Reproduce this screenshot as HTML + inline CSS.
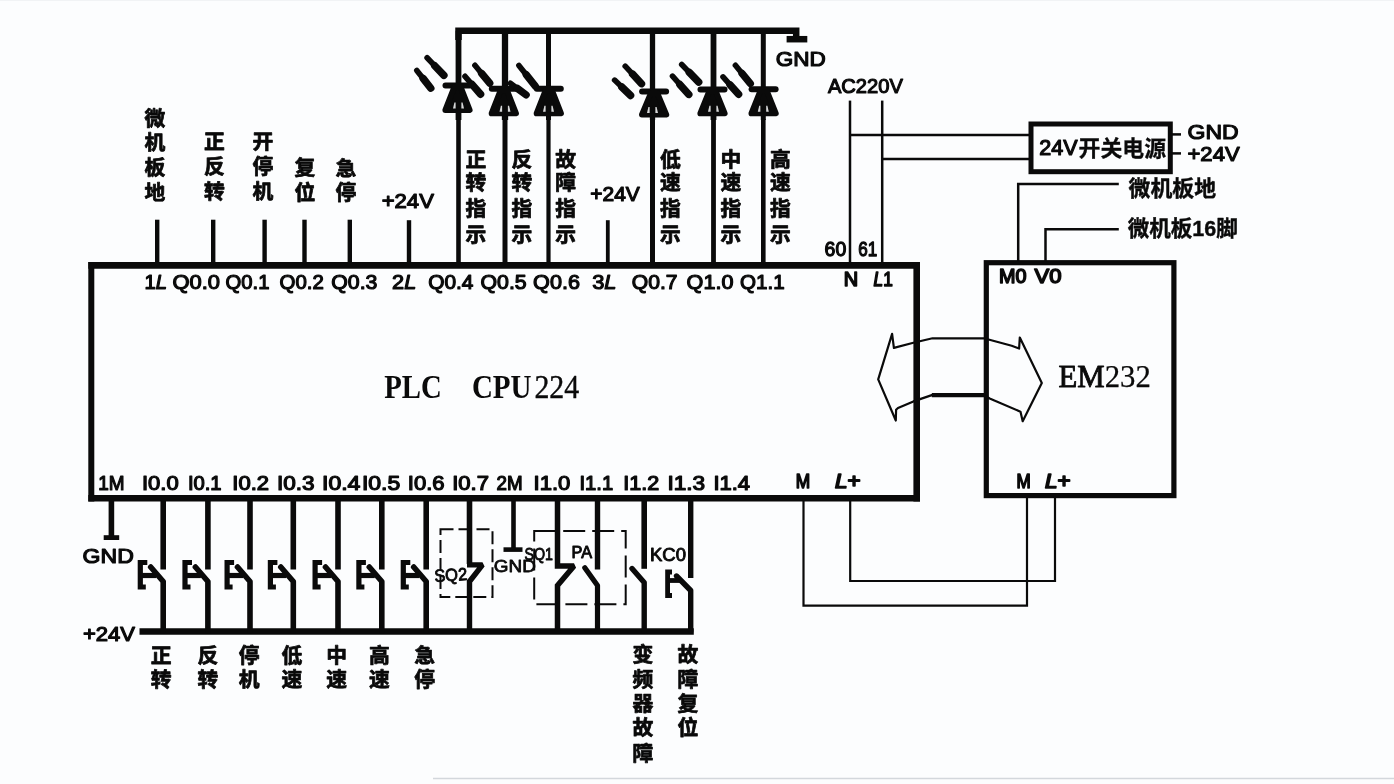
<!DOCTYPE html>
<html lang="zh-CN">
<head>
<meta charset="utf-8">
<title>PLC CPU224 接线图</title>
<style>
html,body{margin:0;padding:0;background:#fcfdfe;}
body{width:1394px;height:784px;overflow:hidden;position:relative;}
svg{display:block;position:absolute;left:0;top:0;will-change:transform;filter:blur(0.4px);}
svg line, svg path, svg rect, svg polygon{stroke:#0a0a0a;}
svg text{fill:#0a0a0a;stroke:#0a0a0a;stroke-linejoin:round;}
</style>
</head>
<body>
<svg width="1394" height="784" viewBox="0 0 1394 784">
<rect x="0" y="0" width="1394" height="784" fill="#fcfdfe" stroke="none" style="stroke:none"/>
<line x1="433" y1="778.5" x2="1394" y2="778.5" style="stroke:#d3d7dc" stroke-width="1.5"/>
<line x1="0" y1="0.5" x2="1394" y2="0.5" style="stroke:#f1f3f5" stroke-width="1"/>

<line x1="88.3" y1="265.4" x2="920" y2="265.4" stroke-width="6.8" stroke-linecap="butt" />
<line x1="88.3" y1="498.2" x2="920" y2="498.2" stroke-width="6.6" stroke-linecap="butt" />
<line x1="91.3" y1="262" x2="91.3" y2="501.5" stroke-width="6" stroke-linecap="butt" />
<line x1="916.7" y1="262" x2="916.7" y2="501.5" stroke-width="6.6" stroke-linecap="butt" />
<rect x="986.3" y="262.7" width="187.6" height="232.9" fill="none" stroke-width="5.2"/>
<rect x="1031" y="124" width="139.3" height="47.7" fill="none" stroke-width="5"/>
<line x1="157.2" y1="219.7" x2="157.2" y2="265" stroke-width="4.4" stroke-linecap="butt" />
<line x1="213.2" y1="219.7" x2="213.2" y2="265" stroke-width="4.4" stroke-linecap="butt" />
<line x1="264.6" y1="219.7" x2="264.6" y2="265" stroke-width="4.4" stroke-linecap="butt" />
<line x1="304.5" y1="219.7" x2="304.5" y2="265" stroke-width="4.4" stroke-linecap="butt" />
<line x1="349.8" y1="219.7" x2="349.8" y2="265" stroke-width="4.4" stroke-linecap="butt" />
<line x1="409" y1="220.2" x2="409" y2="265" stroke-width="4.4" stroke-linecap="butt" />
<line x1="607.8" y1="220.2" x2="607.8" y2="265" stroke-width="3.8" stroke-linecap="butt" />
<line x1="458.5" y1="30.8" x2="458.5" y2="120" stroke-width="5.8" stroke-linecap="butt" />
<line x1="458.5" y1="119" x2="458.5" y2="265" stroke-width="4.6" stroke-linecap="butt" />
<line x1="505" y1="30.8" x2="505" y2="120" stroke-width="6.3" stroke-linecap="butt" />
<line x1="505" y1="119" x2="505" y2="265" stroke-width="5" stroke-linecap="butt" />
<line x1="548.5" y1="30.8" x2="548.5" y2="120" stroke-width="5" stroke-linecap="butt" />
<line x1="548.5" y1="119" x2="548.5" y2="265" stroke-width="4.2" stroke-linecap="butt" />
<line x1="652.5" y1="30.8" x2="652.5" y2="120" stroke-width="5.3" stroke-linecap="butt" />
<line x1="652.5" y1="119" x2="652.5" y2="265" stroke-width="5" stroke-linecap="butt" />
<line x1="713.5" y1="30.8" x2="713.5" y2="120" stroke-width="5.8" stroke-linecap="butt" />
<line x1="713.5" y1="119" x2="713.5" y2="265" stroke-width="4.8" stroke-linecap="butt" />
<line x1="763.3" y1="30.8" x2="763.3" y2="120" stroke-width="5" stroke-linecap="butt" />
<line x1="763.3" y1="119" x2="763.3" y2="265" stroke-width="4.6" stroke-linecap="butt" />
<path d="M458.5 40 L458.5 30.8 L796.2 30.8 L796.2 39" stroke-width="6.5" fill="none" stroke-linejoin="miter"/>
<line x1="786.6" y1="39.2" x2="807.3" y2="39.2" stroke-width="6.5" stroke-linecap="butt" />
<line x1="445.5" y1="85.5" x2="469.5" y2="85.5" stroke-width="6" stroke-linecap="round" />
<polygon points="454.3,87.0 460.7,87.0 469.7,110.1 445.3,110.1" fill="#0a0a0a" stroke-width="5.8" stroke-linejoin="round"/>
<polygon points="455.6,108.4 453.0,108.4 454.4,102.5 455.6,102.5" style="stroke:none" fill="#fcfdfe" fill-opacity="0.85"/>
<polygon points="461.4,108.4 464.0,108.4 462.6,102.5 461.4,102.5" style="stroke:none" fill="#fcfdfe" fill-opacity="0.85"/>
<line x1="491.8" y1="88.8" x2="515.8" y2="88.8" stroke-width="6" stroke-linecap="round" />
<polygon points="500.6,90.3 507.0,90.3 516.0,113.39999999999999 491.6,113.39999999999999" fill="#0a0a0a" stroke-width="5.8" stroke-linejoin="round"/>
<polygon points="502.1,111.7 499.5,111.7 500.9,105.8 502.1,105.8" style="stroke:none" fill="#fcfdfe" fill-opacity="0.85"/>
<polygon points="507.9,111.7 510.5,111.7 509.1,105.8 507.9,105.8" style="stroke:none" fill="#fcfdfe" fill-opacity="0.85"/>
<line x1="536.8" y1="88.8" x2="560.8" y2="88.8" stroke-width="6" stroke-linecap="round" />
<polygon points="545.6,90.3 552.0,90.3 561.0,113.39999999999999 536.6,113.39999999999999" fill="#0a0a0a" stroke-width="5.8" stroke-linejoin="round"/>
<polygon points="545.6,111.7 543.0,111.7 544.4,105.8 545.6,105.8" style="stroke:none" fill="#fcfdfe" fill-opacity="0.85"/>
<polygon points="551.4,111.7 554.0,111.7 552.6,105.8 551.4,105.8" style="stroke:none" fill="#fcfdfe" fill-opacity="0.85"/>
<line x1="642.1" y1="91.5" x2="666.1" y2="91.5" stroke-width="6" stroke-linecap="round" />
<polygon points="650.9,93.0 657.3,93.0 666.3,114.6 641.9,114.6" fill="#0a0a0a" stroke-width="5.8" stroke-linejoin="round"/>
<polygon points="649.6,112.9 647.0,112.9 648.4,107.0 649.6,107.0" style="stroke:none" fill="#fcfdfe" fill-opacity="0.85"/>
<polygon points="655.4,112.9 658.0,112.9 656.6,107.0 655.4,107.0" style="stroke:none" fill="#fcfdfe" fill-opacity="0.85"/>
<line x1="700.5" y1="89.5" x2="724.5" y2="89.5" stroke-width="6" stroke-linecap="round" />
<polygon points="709.3,91.0 715.7,91.0 724.7,113.39999999999999 700.3,113.39999999999999" fill="#0a0a0a" stroke-width="5.8" stroke-linejoin="round"/>
<polygon points="710.6,111.7 708.0,111.7 709.4,105.8 710.6,105.8" style="stroke:none" fill="#fcfdfe" fill-opacity="0.85"/>
<polygon points="716.4,111.7 719.0,111.7 717.6,105.8 716.4,105.8" style="stroke:none" fill="#fcfdfe" fill-opacity="0.85"/>
<line x1="751.5999999999999" y1="89.2" x2="775.5999999999999" y2="89.2" stroke-width="6" stroke-linecap="round" />
<polygon points="760.4,90.7 766.8,90.7 775.8,113.39999999999999 751.4,113.39999999999999" fill="#0a0a0a" stroke-width="5.8" stroke-linejoin="round"/>
<polygon points="760.4,111.7 757.8,111.7 759.2,105.8 760.4,105.8" style="stroke:none" fill="#fcfdfe" fill-opacity="0.85"/>
<polygon points="766.2,111.7 768.8,111.7 767.4,105.8 766.2,105.8" style="stroke:none" fill="#fcfdfe" fill-opacity="0.85"/>
<line x1="416.8" y1="70.4" x2="430.8" y2="88.2" stroke-width="5.6" stroke-linecap="round" />
<line x1="423.1" y1="78.4" x2="430.8" y2="88.2" stroke-width="7.4" stroke-linecap="round" />
<line x1="427.1" y1="57.8" x2="443.9" y2="75.4" stroke-width="5.6" stroke-linecap="round" />
<line x1="434.7" y1="65.7" x2="443.9" y2="75.4" stroke-width="7.4" stroke-linecap="round" />
<line x1="465.0" y1="76.3" x2="480.6" y2="94.3" stroke-width="5.6" stroke-linecap="round" />
<line x1="472.0" y1="84.4" x2="480.6" y2="94.3" stroke-width="7.4" stroke-linecap="round" />
<line x1="474.9" y1="65.3" x2="489.7" y2="83.2" stroke-width="5.6" stroke-linecap="round" />
<line x1="481.6" y1="73.4" x2="489.7" y2="83.2" stroke-width="7.4" stroke-linecap="round" />
<line x1="510.4" y1="83.3" x2="526.1" y2="94.9" stroke-width="5.6" stroke-linecap="round" />
<line x1="517.5" y1="88.5" x2="526.1" y2="94.9" stroke-width="7.4" stroke-linecap="round" />
<line x1="518.9" y1="65.4" x2="535.4" y2="86.2" stroke-width="5.6" stroke-linecap="round" />
<line x1="526.3" y1="74.7" x2="535.4" y2="86.2" stroke-width="7.4" stroke-linecap="round" />
<line x1="614.6" y1="80.1" x2="630.6" y2="95.5" stroke-width="5.6" stroke-linecap="round" />
<line x1="621.8" y1="87.0" x2="630.6" y2="95.5" stroke-width="7.4" stroke-linecap="round" />
<line x1="625.2" y1="66.2" x2="641.5" y2="83.7" stroke-width="5.6" stroke-linecap="round" />
<line x1="632.6" y1="74.1" x2="641.5" y2="83.7" stroke-width="7.4" stroke-linecap="round" />
<line x1="672.5" y1="76.2" x2="688.8" y2="94.4" stroke-width="5.6" stroke-linecap="round" />
<line x1="679.8" y1="84.4" x2="688.8" y2="94.4" stroke-width="7.4" stroke-linecap="round" />
<line x1="681.7" y1="64.5" x2="698.7" y2="82.1" stroke-width="5.6" stroke-linecap="round" />
<line x1="689.3" y1="72.4" x2="698.7" y2="82.1" stroke-width="7.4" stroke-linecap="round" />
<line x1="723.0" y1="76.9" x2="738.6" y2="94.3" stroke-width="5.6" stroke-linecap="round" />
<line x1="730.0" y1="84.8" x2="738.6" y2="94.3" stroke-width="7.4" stroke-linecap="round" />
<line x1="735.4" y1="65.3" x2="750.3" y2="83.5" stroke-width="5.6" stroke-linecap="round" />
<line x1="742.1" y1="73.5" x2="750.3" y2="83.5" stroke-width="7.4" stroke-linecap="round" />
<line x1="850" y1="100.6" x2="850" y2="265" stroke-width="2.5" stroke-linecap="butt" />
<line x1="882.2" y1="100.6" x2="882.2" y2="265" stroke-width="2.5" stroke-linecap="butt" />
<line x1="850" y1="135" x2="1031" y2="135" stroke-width="2.5" stroke-linecap="butt" />
<line x1="882.2" y1="159" x2="1031" y2="159" stroke-width="2.5" stroke-linecap="butt" />
<line x1="1170" y1="134.4" x2="1181" y2="134.4" stroke-width="2.5" stroke-linecap="butt" />
<line x1="1170" y1="153.4" x2="1181" y2="153.4" stroke-width="2.5" stroke-linecap="butt" />
<path d="M1118.8 184 L1018.2 184 L1018.2 262" stroke-width="2.5" fill="none" />
<path d="M1118.8 229.2 L1045.5 229.2 L1045.5 262" stroke-width="2.5" fill="none" />
<path d="M803.5 498 L803.5 605.7 L1027 605.7 L1027 495" stroke-width="2.2" fill="none" />
<path d="M850.2 498 L850.2 581 L1055 581 L1055 495" stroke-width="2.2" fill="none" />
<path d="M893.9 347.9 L892.1 333.9 L878.2 379.4 L895.8 420.5 L896.1 409.8 L898 408 L913.4 401.4 L931.8 395.1 L983.9 395.1 L989.7 398.5 L1020.5 411.7 L1022.7 421.2 L1041.8 383.1 L1019.8 337.6 L1019.1 348.6 L1011.7 345.7 L983.9 338.3 L932.5 338.3 L913.4 342.7 Z" stroke-width="2.2" fill="none" stroke-linejoin="round"/>
<line x1="931.8" y1="395.1" x2="984" y2="395.1" stroke-width="4.2" stroke-linecap="butt" />
<line x1="111.4" y1="498" x2="111.4" y2="538" stroke-width="5.6" stroke-linecap="butt" />
<line x1="103.7" y1="537.6" x2="119.2" y2="537.6" stroke-width="4.8" stroke-linecap="butt" />
<line x1="139.5" y1="631.6" x2="693.8" y2="631.6" stroke-width="6.5" stroke-linecap="butt" />
<line x1="163.2" y1="498" x2="163.2" y2="569.5" stroke-width="5.6" stroke-linecap="butt" />
<path d="M147.29999999999998 562.5 L140.29999999999998 562.5 L140.29999999999998 587 L145.79999999999998 587" stroke-width="5.2" fill="none" stroke-linejoin="miter"/>
<line x1="140.29999999999998" y1="575.5" x2="156.2" y2="575.5" stroke-width="5.2" stroke-linecap="butt" />
<path d="M150.7 567 L163.2 581.5 L163.2 631" stroke-width="5.6" fill="none" stroke-linejoin="round" stroke-linecap="round"/>
<line x1="207.9" y1="498" x2="207.9" y2="569.5" stroke-width="5.6" stroke-linecap="butt" />
<path d="M192.0 562.5 L185.0 562.5 L185.0 587 L190.5 587" stroke-width="5.2" fill="none" stroke-linejoin="miter"/>
<line x1="185.0" y1="575.5" x2="200.9" y2="575.5" stroke-width="5.2" stroke-linecap="butt" />
<path d="M195.4 567 L207.9 581.5 L207.9 631" stroke-width="5.6" fill="none" stroke-linejoin="round" stroke-linecap="round"/>
<line x1="250" y1="498" x2="250" y2="569.5" stroke-width="5.6" stroke-linecap="butt" />
<path d="M234.1 562.5 L227.1 562.5 L227.1 587 L232.6 587" stroke-width="5.2" fill="none" stroke-linejoin="miter"/>
<line x1="227.1" y1="575.5" x2="243" y2="575.5" stroke-width="5.2" stroke-linecap="butt" />
<path d="M237.5 567 L250 581.5 L250 631" stroke-width="5.6" fill="none" stroke-linejoin="round" stroke-linecap="round"/>
<line x1="293.3" y1="498" x2="293.3" y2="569.5" stroke-width="5.6" stroke-linecap="butt" />
<path d="M277.40000000000003 562.5 L270.40000000000003 562.5 L270.40000000000003 587 L275.90000000000003 587" stroke-width="5.2" fill="none" stroke-linejoin="miter"/>
<line x1="270.40000000000003" y1="575.5" x2="286.3" y2="575.5" stroke-width="5.2" stroke-linecap="butt" />
<path d="M280.8 567 L293.3 581.5 L293.3 631" stroke-width="5.6" fill="none" stroke-linejoin="round" stroke-linecap="round"/>
<line x1="338" y1="498" x2="338" y2="569.5" stroke-width="5.6" stroke-linecap="butt" />
<path d="M322.1 562.5 L315.1 562.5 L315.1 587 L320.6 587" stroke-width="5.2" fill="none" stroke-linejoin="miter"/>
<line x1="315.1" y1="575.5" x2="331" y2="575.5" stroke-width="5.2" stroke-linecap="butt" />
<path d="M325.5 567 L338 581.5 L338 631" stroke-width="5.6" fill="none" stroke-linejoin="round" stroke-linecap="round"/>
<line x1="381.8" y1="498" x2="381.8" y2="569.5" stroke-width="5.6" stroke-linecap="butt" />
<path d="M365.90000000000003 562.5 L358.90000000000003 562.5 L358.90000000000003 587 L364.40000000000003 587" stroke-width="5.2" fill="none" stroke-linejoin="miter"/>
<line x1="358.90000000000003" y1="575.5" x2="374.8" y2="575.5" stroke-width="5.2" stroke-linecap="butt" />
<path d="M369.3 567 L381.8 581.5 L381.8 631" stroke-width="5.6" fill="none" stroke-linejoin="round" stroke-linecap="round"/>
<line x1="426.2" y1="498" x2="426.2" y2="569.5" stroke-width="5.6" stroke-linecap="butt" />
<path d="M410.3 562.5 L403.3 562.5 L403.3 587 L408.8 587" stroke-width="5.2" fill="none" stroke-linejoin="miter"/>
<line x1="403.3" y1="575.5" x2="419.2" y2="575.5" stroke-width="5.2" stroke-linecap="butt" />
<path d="M413.7 567 L426.2 581.5 L426.2 631" stroke-width="5.6" fill="none" stroke-linejoin="round" stroke-linecap="round"/>
<line x1="469.5" y1="498" x2="469.5" y2="564" stroke-width="5.6" stroke-linecap="butt" />
<path d="M467 564.9 L482.5 564.9 L469.5 581.5 L469.5 631" stroke-width="5.4" fill="none" stroke-linejoin="miter" stroke-miterlimit="2"/>
<rect x="440.5" y="529.3" width="52" height="67.8" fill="none" stroke-width="2" stroke-dasharray="13 5"/>
<line x1="513.5" y1="498" x2="513.5" y2="550" stroke-width="4.6" stroke-linecap="butt" />
<line x1="503.5" y1="549.6" x2="522.5" y2="549.6" stroke-width="4.6" stroke-linecap="butt" />
<path d="M557.5 498 L557.5 566 L574 566 L557.5 585.5 L557.5 631" stroke-width="5.5" fill="none" stroke-linejoin="miter" stroke-miterlimit="2"/>
<line x1="597.5" y1="498" x2="597.5" y2="569.5" stroke-width="5.4" stroke-linecap="butt" />
<path d="M584.8 567.8 L597.5 585.5 L597.5 631" stroke-width="5.2" fill="none" stroke-linejoin="round" stroke-linecap="round"/>
<rect x="534.2" y="531" width="91.5" height="73.2" fill="none" stroke-width="2" stroke-dasharray="22 7"/>
<line x1="644.2" y1="498" x2="644.2" y2="568.8" stroke-width="5.6" stroke-linecap="butt" />
<path d="M632 568.5 L644.2 582.5 L644.2 631" stroke-width="5.4" fill="none" stroke-linejoin="round" stroke-linecap="round"/>
<line x1="690.7" y1="498" x2="690.7" y2="578" stroke-width="5.4" stroke-linecap="butt" />
<path d="M672 572 L667.6 572 L667.6 595.5 L672 595.5" stroke-width="4.8" fill="none" stroke-linejoin="miter"/>
<line x1="667.6" y1="580.5" x2="682" y2="580.5" stroke-width="4.8" stroke-linecap="butt" />
<path d="M676.5 576 L690.7 590.5 L690.7 631" stroke-width="5.4" fill="none" stroke-linejoin="round" stroke-linecap="round"/>
<text x="144.4" y="288.7" font-size="20.5" font-family='"Liberation Sans", "Noto Sans CJK SC", sans-serif' font-weight="normal" text-anchor="start" stroke-width="1.2" textLength="22.6" lengthAdjust="spacingAndGlyphs" >1<tspan font-style="italic">L</tspan></text>
<text x="172.5" y="288.7" font-size="20.5" font-family='"Liberation Sans", "Noto Sans CJK SC", sans-serif' font-weight="normal" text-anchor="start" stroke-width="1.2" textLength="47.5" lengthAdjust="spacingAndGlyphs" >Q0.0</text>
<text x="225.5" y="288.7" font-size="20.5" font-family='"Liberation Sans", "Noto Sans CJK SC", sans-serif' font-weight="normal" text-anchor="start" stroke-width="1.2" textLength="43.9" lengthAdjust="spacingAndGlyphs" >Q0.1</text>
<text x="279.6" y="288.7" font-size="20.5" font-family='"Liberation Sans", "Noto Sans CJK SC", sans-serif' font-weight="normal" text-anchor="start" stroke-width="1.2" textLength="44.2" lengthAdjust="spacingAndGlyphs" >Q0.2</text>
<text x="331.3" y="288.7" font-size="20.5" font-family='"Liberation Sans", "Noto Sans CJK SC", sans-serif' font-weight="normal" text-anchor="start" stroke-width="1.2" textLength="46.1" lengthAdjust="spacingAndGlyphs" >Q0.3</text>
<text x="392.1" y="288.7" font-size="20.5" font-family='"Liberation Sans", "Noto Sans CJK SC", sans-serif' font-weight="normal" text-anchor="start" stroke-width="1.2" textLength="24.1" lengthAdjust="spacingAndGlyphs" >2<tspan font-style="italic">L</tspan></text>
<text x="428.2" y="288.7" font-size="20.5" font-family='"Liberation Sans", "Noto Sans CJK SC", sans-serif' font-weight="normal" text-anchor="start" stroke-width="1.2" textLength="45.2" lengthAdjust="spacingAndGlyphs" >Q0.4</text>
<text x="480.5" y="288.7" font-size="20.5" font-family='"Liberation Sans", "Noto Sans CJK SC", sans-serif' font-weight="normal" text-anchor="start" stroke-width="1.2" textLength="46.2" lengthAdjust="spacingAndGlyphs" >Q0.5</text>
<text x="533.1" y="288.7" font-size="20.5" font-family='"Liberation Sans", "Noto Sans CJK SC", sans-serif' font-weight="normal" text-anchor="start" stroke-width="1.2" textLength="46.8" lengthAdjust="spacingAndGlyphs" >Q0.6</text>
<text x="592.2" y="288.7" font-size="20.5" font-family='"Liberation Sans", "Noto Sans CJK SC", sans-serif' font-weight="normal" text-anchor="start" stroke-width="1.2" textLength="24.3" lengthAdjust="spacingAndGlyphs" >3<tspan font-style="italic">L</tspan></text>
<text x="631.8" y="288.7" font-size="20.5" font-family='"Liberation Sans", "Noto Sans CJK SC", sans-serif' font-weight="normal" text-anchor="start" stroke-width="1.2" textLength="45.7" lengthAdjust="spacingAndGlyphs" >Q0.7</text>
<text x="686.6" y="288.7" font-size="20.5" font-family='"Liberation Sans", "Noto Sans CJK SC", sans-serif' font-weight="normal" text-anchor="start" stroke-width="1.2" textLength="46.8" lengthAdjust="spacingAndGlyphs" >Q1.0</text>
<text x="740" y="288.7" font-size="20.5" font-family='"Liberation Sans", "Noto Sans CJK SC", sans-serif' font-weight="normal" text-anchor="start" stroke-width="1.2" textLength="44.6" lengthAdjust="spacingAndGlyphs" >Q1.1</text>
<text x="843.7" y="286.2" font-size="19.5" font-family='"Liberation Sans", "Noto Sans CJK SC", sans-serif' font-weight="normal" text-anchor="start" stroke-width="1.5" textLength="14.4" lengthAdjust="spacingAndGlyphs" >N</text>
<text x="873.6" y="286.2" font-size="19.5" font-family='"Liberation Sans", "Noto Sans CJK SC", sans-serif' font-weight="normal" text-anchor="start" stroke-width="1.5" textLength="19.2" lengthAdjust="spacingAndGlyphs" ><tspan font-style="italic">L</tspan>1</text>
<text x="824.6" y="256.2" font-size="21" font-family='"Liberation Sans", "Noto Sans CJK SC", sans-serif' font-weight="normal" text-anchor="start" stroke-width="1.3" textLength="21.6" lengthAdjust="spacingAndGlyphs" >60</text>
<text x="858.3" y="256.2" font-size="21" font-family='"Liberation Sans", "Noto Sans CJK SC", sans-serif' font-weight="normal" text-anchor="start" stroke-width="1.3" textLength="19" lengthAdjust="spacingAndGlyphs" >61</text>
<text x="999" y="283.4" font-size="19.5" font-family='"Liberation Sans", "Noto Sans CJK SC", sans-serif' font-weight="normal" text-anchor="start" stroke-width="1.5" textLength="27.5" lengthAdjust="spacingAndGlyphs" >M0</text>
<text x="1034.5" y="283.4" font-size="19.5" font-family='"Liberation Sans", "Noto Sans CJK SC", sans-serif' font-weight="normal" text-anchor="start" stroke-width="1.5" textLength="27" lengthAdjust="spacingAndGlyphs" >V0</text>
<text x="98.2" y="489.5" font-size="19.5" font-family='"Liberation Sans", "Noto Sans CJK SC", sans-serif' font-weight="normal" text-anchor="start" stroke-width="1.2" textLength="26.3" lengthAdjust="spacingAndGlyphs" >1M</text>
<text x="142" y="489.5" font-size="19.5" font-family='"Liberation Sans", "Noto Sans CJK SC", sans-serif' font-weight="normal" text-anchor="start" stroke-width="1.2" textLength="36.7" lengthAdjust="spacingAndGlyphs" >I0.0</text>
<text x="187.9" y="489.5" font-size="19.5" font-family='"Liberation Sans", "Noto Sans CJK SC", sans-serif' font-weight="normal" text-anchor="start" stroke-width="1.2" textLength="33.7" lengthAdjust="spacingAndGlyphs" >I0.1</text>
<text x="232.3" y="489.5" font-size="19.5" font-family='"Liberation Sans", "Noto Sans CJK SC", sans-serif' font-weight="normal" text-anchor="start" stroke-width="1.2" textLength="36.7" lengthAdjust="spacingAndGlyphs" >I0.2</text>
<text x="277" y="489.5" font-size="19.5" font-family='"Liberation Sans", "Noto Sans CJK SC", sans-serif' font-weight="normal" text-anchor="start" stroke-width="1.2" textLength="37.6" lengthAdjust="spacingAndGlyphs" >I0.3</text>
<text x="322" y="489.5" font-size="19.5" font-family='"Liberation Sans", "Noto Sans CJK SC", sans-serif' font-weight="normal" text-anchor="start" stroke-width="1.2" textLength="38.4" lengthAdjust="spacingAndGlyphs" >I0.4</text>
<text x="361.9" y="489.5" font-size="19.5" font-family='"Liberation Sans", "Noto Sans CJK SC", sans-serif' font-weight="normal" text-anchor="start" stroke-width="1.2" textLength="38.3" lengthAdjust="spacingAndGlyphs" >I0.5</text>
<text x="407.8" y="489.5" font-size="19.5" font-family='"Liberation Sans", "Noto Sans CJK SC", sans-serif' font-weight="normal" text-anchor="start" stroke-width="1.2" textLength="36.8" lengthAdjust="spacingAndGlyphs" >I0.6</text>
<text x="452.2" y="489.5" font-size="19.5" font-family='"Liberation Sans", "Noto Sans CJK SC", sans-serif' font-weight="normal" text-anchor="start" stroke-width="1.2" textLength="36.8" lengthAdjust="spacingAndGlyphs" >I0.7</text>
<text x="496.6" y="489.5" font-size="19.5" font-family='"Liberation Sans", "Noto Sans CJK SC", sans-serif' font-weight="normal" text-anchor="start" stroke-width="1.2" textLength="26.1" lengthAdjust="spacingAndGlyphs" >2M</text>
<text x="533.6" y="489.5" font-size="19.5" font-family='"Liberation Sans", "Noto Sans CJK SC", sans-serif' font-weight="normal" text-anchor="start" stroke-width="1.2" textLength="36.8" lengthAdjust="spacingAndGlyphs" >I1.0</text>
<text x="579.5" y="489.5" font-size="19.5" font-family='"Liberation Sans", "Noto Sans CJK SC", sans-serif' font-weight="normal" text-anchor="start" stroke-width="1.2" textLength="33.7" lengthAdjust="spacingAndGlyphs" >I1.1</text>
<text x="623.3" y="489.5" font-size="19.5" font-family='"Liberation Sans", "Noto Sans CJK SC", sans-serif' font-weight="normal" text-anchor="start" stroke-width="1.2" textLength="35.9" lengthAdjust="spacingAndGlyphs" >I1.2</text>
<text x="667.4" y="489.5" font-size="19.5" font-family='"Liberation Sans", "Noto Sans CJK SC", sans-serif' font-weight="normal" text-anchor="start" stroke-width="1.2" textLength="37.7" lengthAdjust="spacingAndGlyphs" >I1.3</text>
<text x="713.4" y="489.5" font-size="19.5" font-family='"Liberation Sans", "Noto Sans CJK SC", sans-serif' font-weight="normal" text-anchor="start" stroke-width="1.2" textLength="36.6" lengthAdjust="spacingAndGlyphs" >I1.4</text>
<text x="795.7" y="488.2" font-size="19.5" font-family='"Liberation Sans", "Noto Sans CJK SC", sans-serif' font-weight="normal" text-anchor="start" stroke-width="1.6" textLength="14.4" lengthAdjust="spacingAndGlyphs" >M</text>
<text x="835.1" y="488.2" font-size="19.5" font-family='"Liberation Sans", "Noto Sans CJK SC", sans-serif' font-weight="normal" text-anchor="start" stroke-width="1.6" textLength="25.6" lengthAdjust="spacingAndGlyphs" ><tspan font-style="italic">L</tspan>+</text>
<text x="1016.5" y="488.2" font-size="19.5" font-family='"Liberation Sans", "Noto Sans CJK SC", sans-serif' font-weight="normal" text-anchor="start" stroke-width="1.6" textLength="14.2" lengthAdjust="spacingAndGlyphs" >M</text>
<text x="1045.1" y="488.2" font-size="19.5" font-family='"Liberation Sans", "Noto Sans CJK SC", sans-serif' font-weight="normal" text-anchor="start" stroke-width="1.6" textLength="25.6" lengthAdjust="spacingAndGlyphs" ><tspan font-style="italic">L</tspan>+</text>
<text x="381.7" y="208.2" font-size="20.5" font-family='"Liberation Sans", "Noto Sans CJK SC", sans-serif' font-weight="normal" text-anchor="start" stroke-width="1.2" textLength="52.2" lengthAdjust="spacingAndGlyphs" >+24V</text>
<text x="590.3" y="200.9" font-size="20.5" font-family='"Liberation Sans", "Noto Sans CJK SC", sans-serif' font-weight="normal" text-anchor="start" stroke-width="1.2" textLength="49.5" lengthAdjust="spacingAndGlyphs" >+24V</text>
<text x="775.8" y="66.4" font-size="21" font-family='"Liberation Sans", "Noto Sans CJK SC", sans-serif' font-weight="normal" text-anchor="start" stroke-width="1.2" textLength="50" lengthAdjust="spacingAndGlyphs" >GND</text>
<text x="827.9" y="93.2" font-size="21" font-family='"Liberation Sans", "Noto Sans CJK SC", sans-serif' font-weight="normal" text-anchor="start" stroke-width="1.2" textLength="74.9" lengthAdjust="spacingAndGlyphs" >AC220V</text>
<text x="1187.5" y="139.3" font-size="21" font-family='"Liberation Sans", "Noto Sans CJK SC", sans-serif' font-weight="normal" text-anchor="start" stroke-width="1.2" textLength="51.1" lengthAdjust="spacingAndGlyphs" >GND</text>
<text x="1187.5" y="160.9" font-size="21" font-family='"Liberation Sans", "Noto Sans CJK SC", sans-serif' font-weight="normal" text-anchor="start" stroke-width="1.2" textLength="52.1" lengthAdjust="spacingAndGlyphs" >+24V</text>
<text x="82.6" y="562.6" font-size="21" font-family='"Liberation Sans", "Noto Sans CJK SC", sans-serif' font-weight="normal" text-anchor="start" stroke-width="1.2" textLength="51.2" lengthAdjust="spacingAndGlyphs" >GND</text>
<text x="82.9" y="640.8" font-size="20.5" font-family='"Liberation Sans", "Noto Sans CJK SC", sans-serif' font-weight="normal" text-anchor="start" stroke-width="1.2" textLength="52.1" lengthAdjust="spacingAndGlyphs" >+24V</text>
<text x="493.8" y="572.3" font-size="17" font-family='"Liberation Sans", "Noto Sans CJK SC", sans-serif' font-weight="normal" text-anchor="start" stroke-width="0.8" textLength="42" lengthAdjust="spacingAndGlyphs" >GND</text>
<text x="434.2" y="581" font-size="17.5" font-family='"Liberation Sans", "Noto Sans CJK SC", sans-serif' font-weight="normal" text-anchor="start" stroke-width="0.9" textLength="33" lengthAdjust="spacingAndGlyphs" transform="rotate(-4 450 575)">SQ2</text>
<text x="524.4" y="559.5" font-size="17" font-family='"Liberation Sans", "Noto Sans CJK SC", sans-serif' font-weight="normal" text-anchor="start" stroke-width="0.9" textLength="28.5" lengthAdjust="spacingAndGlyphs" >SQ1</text>
<text x="571.6" y="558.4" font-size="16" font-family='"Liberation Sans", "Noto Sans CJK SC", sans-serif' font-weight="normal" text-anchor="start" stroke-width="0.9" textLength="20.5" lengthAdjust="spacingAndGlyphs" >PA</text>
<text x="650" y="560.6" font-size="17.5" font-family='"Liberation Sans", "Noto Sans CJK SC", sans-serif' font-weight="normal" text-anchor="start" stroke-width="0.9" textLength="36" lengthAdjust="spacingAndGlyphs" >KC0</text>
<text x="384.2" y="398.2" font-size="34" font-family='"Liberation Serif", "Noto Serif CJK SC", serif' font-weight="bold" text-anchor="start" stroke-width="0" textLength="57.6" lengthAdjust="spacingAndGlyphs" >PLC</text>
<text x="471.9" y="398.2" font-size="34" font-family='"Liberation Serif", "Noto Serif CJK SC", serif' font-weight="bold" text-anchor="start" stroke-width="0" textLength="59.7" lengthAdjust="spacingAndGlyphs" >CPU</text>
<text x="534.4" y="398.2" font-size="34" font-family='"Liberation Serif", "Noto Serif CJK SC", serif' font-weight="normal" text-anchor="start" stroke-width="0.4" textLength="44.8" lengthAdjust="spacingAndGlyphs" >224</text>
<text x="1058.5" y="386.7" font-size="32" font-family='"Liberation Serif", "Noto Serif CJK SC", serif' font-weight="normal" text-anchor="start" stroke-width="0.25" textLength="92.3" lengthAdjust="spacingAndGlyphs" ><tspan stroke-width="0.9">EM</tspan>232</text>
<text x="1039.3" y="155.4" font-size="21.5" font-family='"Liberation Sans", "Noto Sans CJK SC", sans-serif' font-weight="normal" text-anchor="start" stroke-width="1.2" textLength="38.3" lengthAdjust="spacingAndGlyphs" >24V</text>
<text x="1078.6" y="155.6" font-size="22" font-family='"Liberation Sans", "Noto Sans CJK SC", sans-serif' font-weight="700" text-anchor="start" stroke-width="0.3" textLength="87.4" lengthAdjust="spacingAndGlyphs" >开关电源</text>
<text x="1128.6" y="196" font-size="22" font-family='"Liberation Sans", "Noto Sans CJK SC", sans-serif' font-weight="700" text-anchor="start" stroke-width="0.4" textLength="87.4" lengthAdjust="spacingAndGlyphs" >微机板地</text>
<text x="1127.7" y="236.2" font-size="22" font-family='"Liberation Sans", "Noto Sans CJK SC", sans-serif' font-weight="700" text-anchor="start" stroke-width="0.4" textLength="110" lengthAdjust="spacingAndGlyphs" >微机板16脚</text>
<text x="155" y="125.5" font-size="20.8" font-family='"Liberation Sans", "Noto Sans CJK SC", sans-serif' font-weight="700" text-anchor="middle" stroke-width="0.75">微</text>
<text x="155" y="150.2" font-size="20.8" font-family='"Liberation Sans", "Noto Sans CJK SC", sans-serif' font-weight="700" text-anchor="middle" stroke-width="0.75">机</text>
<text x="155" y="175.1" font-size="20.8" font-family='"Liberation Sans", "Noto Sans CJK SC", sans-serif' font-weight="700" text-anchor="middle" stroke-width="0.75">板</text>
<text x="155" y="200.2" font-size="20.8" font-family='"Liberation Sans", "Noto Sans CJK SC", sans-serif' font-weight="700" text-anchor="middle" stroke-width="0.75">地</text>
<text x="214.3" y="149.1" font-size="20.8" font-family='"Liberation Sans", "Noto Sans CJK SC", sans-serif' font-weight="700" text-anchor="middle" stroke-width="0.75">正</text>
<text x="214.3" y="173.9" font-size="20.8" font-family='"Liberation Sans", "Noto Sans CJK SC", sans-serif' font-weight="700" text-anchor="middle" stroke-width="0.75">反</text>
<text x="214.3" y="198.5" font-size="20.8" font-family='"Liberation Sans", "Noto Sans CJK SC", sans-serif' font-weight="700" text-anchor="middle" stroke-width="0.75">转</text>
<text x="263" y="149.1" font-size="20.8" font-family='"Liberation Sans", "Noto Sans CJK SC", sans-serif' font-weight="700" text-anchor="middle" stroke-width="0.75">开</text>
<text x="263" y="173.9" font-size="20.8" font-family='"Liberation Sans", "Noto Sans CJK SC", sans-serif' font-weight="700" text-anchor="middle" stroke-width="0.75">停</text>
<text x="263" y="198.5" font-size="20.8" font-family='"Liberation Sans", "Noto Sans CJK SC", sans-serif' font-weight="700" text-anchor="middle" stroke-width="0.75">机</text>
<text x="305" y="175.3" font-size="20.8" font-family='"Liberation Sans", "Noto Sans CJK SC", sans-serif' font-weight="700" text-anchor="middle" stroke-width="0.75">复</text>
<text x="305" y="200.2" font-size="20.8" font-family='"Liberation Sans", "Noto Sans CJK SC", sans-serif' font-weight="700" text-anchor="middle" stroke-width="0.75">位</text>
<text x="346" y="175.7" font-size="20.8" font-family='"Liberation Sans", "Noto Sans CJK SC", sans-serif' font-weight="700" text-anchor="middle" stroke-width="0.75">急</text>
<text x="346" y="200.2" font-size="20.8" font-family='"Liberation Sans", "Noto Sans CJK SC", sans-serif' font-weight="700" text-anchor="middle" stroke-width="0.75">停</text>
<text x="475.8" y="167.1" font-size="20.8" font-family='"Liberation Sans", "Noto Sans CJK SC", sans-serif' font-weight="700" text-anchor="middle" stroke-width="0.75">正</text>
<text x="475.8" y="190.2" font-size="20.8" font-family='"Liberation Sans", "Noto Sans CJK SC", sans-serif' font-weight="700" text-anchor="middle" stroke-width="0.75">转</text>
<text x="475.8" y="215.9" font-size="20.8" font-family='"Liberation Sans", "Noto Sans CJK SC", sans-serif' font-weight="700" text-anchor="middle" stroke-width="0.75">指</text>
<text x="475.8" y="241.5" font-size="20.8" font-family='"Liberation Sans", "Noto Sans CJK SC", sans-serif' font-weight="700" text-anchor="middle" stroke-width="0.75">示</text>
<text x="522" y="167.1" font-size="20.8" font-family='"Liberation Sans", "Noto Sans CJK SC", sans-serif' font-weight="700" text-anchor="middle" stroke-width="0.75">反</text>
<text x="522" y="190.2" font-size="20.8" font-family='"Liberation Sans", "Noto Sans CJK SC", sans-serif' font-weight="700" text-anchor="middle" stroke-width="0.75">转</text>
<text x="522" y="215.9" font-size="20.8" font-family='"Liberation Sans", "Noto Sans CJK SC", sans-serif' font-weight="700" text-anchor="middle" stroke-width="0.75">指</text>
<text x="522" y="241.5" font-size="20.8" font-family='"Liberation Sans", "Noto Sans CJK SC", sans-serif' font-weight="700" text-anchor="middle" stroke-width="0.75">示</text>
<text x="565.6" y="167.1" font-size="20.8" font-family='"Liberation Sans", "Noto Sans CJK SC", sans-serif' font-weight="700" text-anchor="middle" stroke-width="0.75">故</text>
<text x="565.6" y="190.2" font-size="20.8" font-family='"Liberation Sans", "Noto Sans CJK SC", sans-serif' font-weight="700" text-anchor="middle" stroke-width="0.75">障</text>
<text x="565.6" y="215.9" font-size="20.8" font-family='"Liberation Sans", "Noto Sans CJK SC", sans-serif' font-weight="700" text-anchor="middle" stroke-width="0.75">指</text>
<text x="565.6" y="241.5" font-size="20.8" font-family='"Liberation Sans", "Noto Sans CJK SC", sans-serif' font-weight="700" text-anchor="middle" stroke-width="0.75">示</text>
<text x="670.4" y="167.1" font-size="20.8" font-family='"Liberation Sans", "Noto Sans CJK SC", sans-serif' font-weight="700" text-anchor="middle" stroke-width="0.75">低</text>
<text x="670.4" y="190.2" font-size="20.8" font-family='"Liberation Sans", "Noto Sans CJK SC", sans-serif' font-weight="700" text-anchor="middle" stroke-width="0.75">速</text>
<text x="670.4" y="215.9" font-size="20.8" font-family='"Liberation Sans", "Noto Sans CJK SC", sans-serif' font-weight="700" text-anchor="middle" stroke-width="0.75">指</text>
<text x="670.4" y="241.5" font-size="20.8" font-family='"Liberation Sans", "Noto Sans CJK SC", sans-serif' font-weight="700" text-anchor="middle" stroke-width="0.75">示</text>
<text x="731" y="167.1" font-size="20.8" font-family='"Liberation Sans", "Noto Sans CJK SC", sans-serif' font-weight="700" text-anchor="middle" stroke-width="0.75">中</text>
<text x="731" y="190.2" font-size="20.8" font-family='"Liberation Sans", "Noto Sans CJK SC", sans-serif' font-weight="700" text-anchor="middle" stroke-width="0.75">速</text>
<text x="731" y="215.9" font-size="20.8" font-family='"Liberation Sans", "Noto Sans CJK SC", sans-serif' font-weight="700" text-anchor="middle" stroke-width="0.75">指</text>
<text x="731" y="241.5" font-size="20.8" font-family='"Liberation Sans", "Noto Sans CJK SC", sans-serif' font-weight="700" text-anchor="middle" stroke-width="0.75">示</text>
<text x="780.4" y="167.1" font-size="20.8" font-family='"Liberation Sans", "Noto Sans CJK SC", sans-serif' font-weight="700" text-anchor="middle" stroke-width="0.75">高</text>
<text x="780.4" y="190.2" font-size="20.8" font-family='"Liberation Sans", "Noto Sans CJK SC", sans-serif' font-weight="700" text-anchor="middle" stroke-width="0.75">速</text>
<text x="780.4" y="215.9" font-size="20.8" font-family='"Liberation Sans", "Noto Sans CJK SC", sans-serif' font-weight="700" text-anchor="middle" stroke-width="0.75">指</text>
<text x="780.4" y="241.5" font-size="20.8" font-family='"Liberation Sans", "Noto Sans CJK SC", sans-serif' font-weight="700" text-anchor="middle" stroke-width="0.75">示</text>
<text x="161.1" y="663.2" font-size="20.8" font-family='"Liberation Sans", "Noto Sans CJK SC", sans-serif' font-weight="700" text-anchor="middle" stroke-width="0.75">正</text>
<text x="161.1" y="687.1" font-size="20.8" font-family='"Liberation Sans", "Noto Sans CJK SC", sans-serif' font-weight="700" text-anchor="middle" stroke-width="0.75">转</text>
<text x="207.8" y="663.2" font-size="20.8" font-family='"Liberation Sans", "Noto Sans CJK SC", sans-serif' font-weight="700" text-anchor="middle" stroke-width="0.75">反</text>
<text x="207.8" y="687.1" font-size="20.8" font-family='"Liberation Sans", "Noto Sans CJK SC", sans-serif' font-weight="700" text-anchor="middle" stroke-width="0.75">转</text>
<text x="249.2" y="663.2" font-size="20.8" font-family='"Liberation Sans", "Noto Sans CJK SC", sans-serif' font-weight="700" text-anchor="middle" stroke-width="0.75">停</text>
<text x="249.2" y="687.1" font-size="20.8" font-family='"Liberation Sans", "Noto Sans CJK SC", sans-serif' font-weight="700" text-anchor="middle" stroke-width="0.75">机</text>
<text x="292" y="663.2" font-size="20.8" font-family='"Liberation Sans", "Noto Sans CJK SC", sans-serif' font-weight="700" text-anchor="middle" stroke-width="0.75">低</text>
<text x="292" y="687.1" font-size="20.8" font-family='"Liberation Sans", "Noto Sans CJK SC", sans-serif' font-weight="700" text-anchor="middle" stroke-width="0.75">速</text>
<text x="336.6" y="663.2" font-size="20.8" font-family='"Liberation Sans", "Noto Sans CJK SC", sans-serif' font-weight="700" text-anchor="middle" stroke-width="0.75">中</text>
<text x="336.6" y="687.1" font-size="20.8" font-family='"Liberation Sans", "Noto Sans CJK SC", sans-serif' font-weight="700" text-anchor="middle" stroke-width="0.75">速</text>
<text x="379.5" y="663.2" font-size="20.8" font-family='"Liberation Sans", "Noto Sans CJK SC", sans-serif' font-weight="700" text-anchor="middle" stroke-width="0.75">高</text>
<text x="379.5" y="687.1" font-size="20.8" font-family='"Liberation Sans", "Noto Sans CJK SC", sans-serif' font-weight="700" text-anchor="middle" stroke-width="0.75">速</text>
<text x="424.7" y="663.2" font-size="20.8" font-family='"Liberation Sans", "Noto Sans CJK SC", sans-serif' font-weight="700" text-anchor="middle" stroke-width="0.75">急</text>
<text x="424.7" y="687.1" font-size="20.8" font-family='"Liberation Sans", "Noto Sans CJK SC", sans-serif' font-weight="700" text-anchor="middle" stroke-width="0.75">停</text>
<text x="643" y="661.9" font-size="20.8" font-family='"Liberation Sans", "Noto Sans CJK SC", sans-serif' font-weight="700" text-anchor="middle" stroke-width="0.75">变</text>
<text x="643" y="687.1" font-size="20.8" font-family='"Liberation Sans", "Noto Sans CJK SC", sans-serif' font-weight="700" text-anchor="middle" stroke-width="0.75">频</text>
<text x="643" y="711.2" font-size="20.8" font-family='"Liberation Sans", "Noto Sans CJK SC", sans-serif' font-weight="700" text-anchor="middle" stroke-width="0.75">器</text>
<text x="643" y="735.2" font-size="20.8" font-family='"Liberation Sans", "Noto Sans CJK SC", sans-serif' font-weight="700" text-anchor="middle" stroke-width="0.75">故</text>
<text x="643" y="760.9" font-size="20.8" font-family='"Liberation Sans", "Noto Sans CJK SC", sans-serif' font-weight="700" text-anchor="middle" stroke-width="0.75">障</text>
<text x="687.8" y="661.9" font-size="20.8" font-family='"Liberation Sans", "Noto Sans CJK SC", sans-serif' font-weight="700" text-anchor="middle" stroke-width="0.75">故</text>
<text x="687.8" y="687.1" font-size="20.8" font-family='"Liberation Sans", "Noto Sans CJK SC", sans-serif' font-weight="700" text-anchor="middle" stroke-width="0.75">障</text>
<text x="687.8" y="711.2" font-size="20.8" font-family='"Liberation Sans", "Noto Sans CJK SC", sans-serif' font-weight="700" text-anchor="middle" stroke-width="0.75">复</text>
<text x="687.8" y="735.2" font-size="20.8" font-family='"Liberation Sans", "Noto Sans CJK SC", sans-serif' font-weight="700" text-anchor="middle" stroke-width="0.75">位</text>
</svg>
</body>
</html>
